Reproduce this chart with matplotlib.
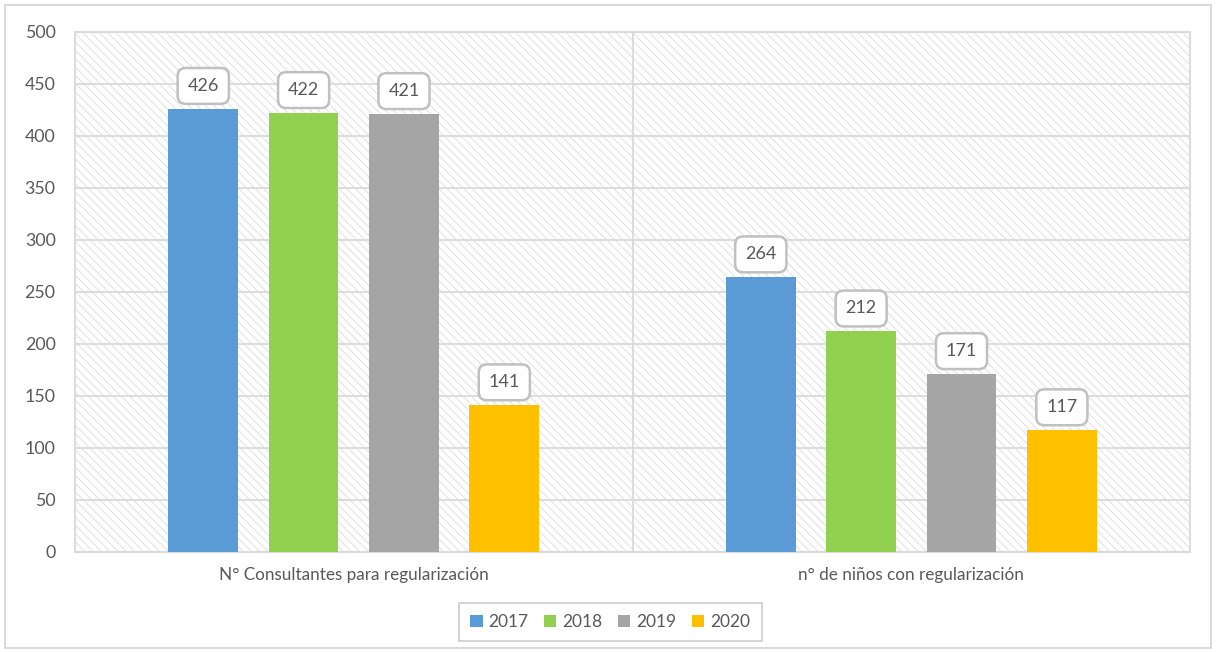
import matplotlib.pyplot as plt
from matplotlib.patches import Rectangle
import numpy as np

categories = ["N° Consultantes para regularización", "n° de niños con regularización"]
years = ["2017", "2018", "2019", "2020"]
values_2017 = [426, 264]
values_2018 = [422, 212]
values_2019 = [421, 171]
values_2020 = [141, 117]
colors = ["#5b9bd5", "#92d050", "#a5a5a5", "#ffc000"]

series = [values_2017, values_2018, values_2019, values_2020]

plt.rcParams['font.family'] = ['Lato', 'DejaVu Sans']
plt.rcParams['hatch.linewidth'] = 0.6
plt.rcParams['hatch.color'] = '#dcdcdc'

fig = plt.figure(figsize=(12.16, 6.52), dpi=100)
ax = fig.add_axes([0.0617, 0.1534, 0.917, 0.7976])

# outer chart border
fig.patches.append(Rectangle((0.004, 0.006), 0.992, 0.987, transform=fig.transFigure,
                             fill=False, edgecolor='#d9d9d9', linewidth=1.5))

# hatched plot background
ax.add_patch(Rectangle((0, 0), 1, 1, transform=ax.transAxes, facecolor='white',
                       hatch='\\\\\\\\', edgecolor='#dcdcdc', linewidth=0, zorder=0))

x = np.arange(len(categories))
width = 0.125
step = 0.18
for i, (vals, col, yr) in enumerate(zip(series, colors, years)):
    pos = x + (i - 1.5) * step
    ax.bar(pos, vals, width, color=col, label=yr, zorder=3)
    for p, v in zip(pos, vals):
        ax.annotate(str(v), (p, v), xytext=(0, 23), textcoords='offset pixels',
                    ha='center', va='center', fontsize=13, color='#595959', zorder=5,
                    bbox=dict(boxstyle='round,pad=0.55,rounding_size=0.45', fc='white',
                              ec='#c0c0c0', lw=1.8))

ax.set_xlim(-0.5, 1.5)
ax.set_ylim(0, 500)
ax.set_yticks(np.arange(0, 501, 50))
ax.yaxis.grid(True, color='#d9d9d9', linewidth=1.3, zorder=1)
ax.set_axisbelow(True)
ax.axvline(0.5, color='#d9d9d9', linewidth=1.3, zorder=1)
ax.set_xticks(x)
ax.set_xticklabels(categories, fontsize=12.3, color='#595959')
ax.tick_params(axis='x', length=0, pad=11)
ax.tick_params(axis='y', length=0, pad=14, labelsize=12.8, labelcolor='#595959')
for side in ['top', 'right', 'left']:
    ax.spines[side].set_color('#d9d9d9')
    ax.spines[side].set_linewidth(1.3)
ax.spines['bottom'].set_color('#d9d9d9')
ax.spines['bottom'].set_linewidth(1.5)

leg = fig.legend(loc='center', bbox_to_anchor=(0.502, 0.046), ncol=4, fontsize=12.5,
                 frameon=True, fancybox=False, handlelength=0.7, handleheight=0.7,
                 handletextpad=0.35, columnspacing=0.9, borderpad=0.65)
leg.get_frame().set_edgecolor('#bfbfbf')
leg.get_frame().set_linewidth(1.2)
for t in leg.get_texts():
    t.set_color('#595959')

fig.savefig("out.png", dpi=100)
